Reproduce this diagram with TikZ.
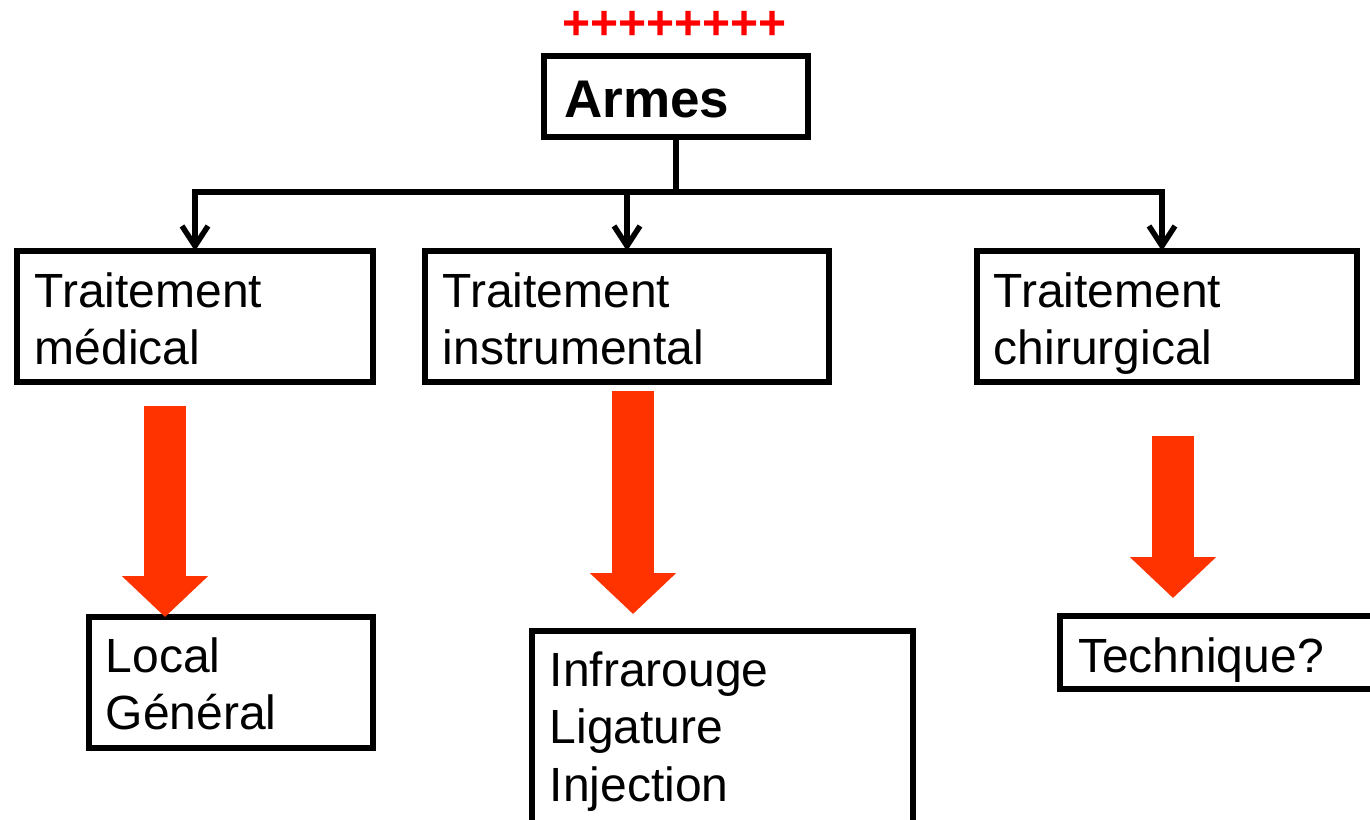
\documentclass[tikz,border=0pt]{standalone}
\usepackage{fontspec}
\setmainfont{Liberation Sans}
\usetikzlibrary{arrows.meta}
\definecolor{arrowred}{HTML}{FF3300}
\definecolor{plusred}{HTML}{FF0000}
\begin{document}
\begin{tikzpicture}[x=1pt,y=-1pt,
  box/.style={draw=black, line width=6pt, rectangle, inner sep=0pt, outer sep=0pt, anchor=north west},
  txt/.style={font=\fontsize{48}{57.5}\selectfont, align=left, inner sep=0pt, anchor=north west},
  conn/.style={line width=5.5pt, draw=black},
  downtip/.style={-{Straight Barb[length=20pt,width=26pt]}},
  bigarrow/.style={draw=arrowred, line width=42pt, -{Triangle[length=41pt,width=84pt]}}]
\useasboundingbox (0,0) rectangle (1370,819);
\clip (0,0) rectangle (1370,819);
\fill[white] (0,0) rectangle (1370,819);

% plus signs
\node[anchor=base west, inner sep=0pt, text=plusred, font=\bfseries\fontsize{48}{48}\selectfont] (plus) at (562,39) {++++++++};

% Armes
\node[box, minimum width=264pt, minimum height=81pt] (armes) at (544,56) {};
\node[anchor=base west, inner sep=0pt, font=\bfseries\fontsize{53}{60}\selectfont] (armestxt) at (564,117) {Armes};

% second level boxes
\node[box, minimum width=356pt, minimum height=131pt] (tm) at (17,251) {};
\node[txt] (tmtxt) at (34.5,272) {\rule{0pt}{35pt}Traitement\\médical};
\node[box, minimum width=404pt, minimum height=131pt] (ti) at (425,251) {};
\node[txt] (titxt) at (442.5,272) {\rule{0pt}{35pt}Traitement\\instrumental};
\node[box, minimum width=380pt, minimum height=131pt] (tc) at (977,251) {};
\node[txt] (tctxt) at (993.5,272) {\rule{0pt}{35pt}Traitement\\chirurgical};

% third level boxes
\node[box, minimum width=284pt, minimum height=131pt] (ll) at (89,617) {};
\node[txt] (lltxt) at (105.5,637) {\rule{0pt}{35pt}Local\\Général};
\node[box, minimum width=381pt, minimum height=230pt] (li) at (532,631) {};
\node[txt] (litxt) at (549.5,651) {\rule{0pt}{35pt}Infrarouge\\Ligature\\Injection};
\node[box, minimum width=340pt, minimum height=73pt] (lt) at (1060,616) {};
\node[txt] (lttxt) at (1078,637) {\rule{0pt}{35pt}Technique?};

% tree connectors
\coordinate (j) at ([yshift=-55pt]armes.south);
\coordinate (jl) at (j -| tm.north);
\coordinate (jm) at (j -| ti.north);
\coordinate (jr) at (1162,192);
\draw[conn] (armes.south) -- (j);
\draw[conn, line cap=rect] (jl) -- (jr);
\draw[conn, downtip] (jl) -- (jl |- tm.north);
\draw[conn, downtip] (jm) -- (jm |- ti.north);
\draw[conn, downtip] (jr) -- (jr |- tc.north);

% big red arrows
\coordinate (a1) at (165,406);
\coordinate (a2) at (633,391);
\coordinate (a3) at (1173,436);
\draw[bigarrow] (a1) -- (a1 |- ll.north);
\draw[bigarrow, shorten >=17pt] (a2) -- (a2 |- li.north);
\draw[bigarrow, shorten >=18pt] (a3) -- (a3 |- lt.north);
\end{tikzpicture}
\end{document}
